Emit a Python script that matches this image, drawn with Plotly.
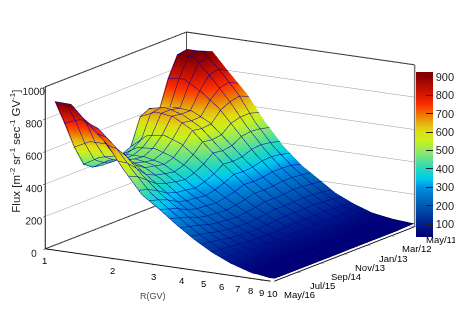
import numpy as np
import plotly.graph_objects as go

rigidity = [1.1, 1.3, 1.55, 1.85, 2.2, 2.65, 3.2, 3.8, 4.5, 5.4, 6.5, 8.0, 10.0]
months_before_may16 = [0, 4, 8, 12, 16, 20, 24, 28, 32, 36, 40, 44, 48, 52, 56, 60]
flux_rows = [
    [918, 915, 806, 706, 560, 420, 340, 260, 190, 125, 75, 35, 15],
    [760, 800, 760, 660, 530, 405, 320, 245, 180, 118, 70, 33, 14],
    [590, 640, 640, 590, 480, 380, 300, 230, 170, 112, 66, 32, 14],
    [460, 520, 545, 510, 430, 345, 270, 210, 155, 105, 62, 31, 14],
    [420, 480, 500, 470, 410, 325, 255, 198, 148, 100, 60, 30, 14],
    [410, 460, 480, 460, 395, 320, 250, 192, 144, 98, 58, 29, 14],
    [415, 470, 470, 445, 385, 310, 245, 188, 140, 96, 57, 29, 14],
    [430, 490, 500, 465, 405, 325, 255, 195, 146, 98, 58, 29, 14],
    [455, 540, 560, 520, 440, 350, 270, 205, 150, 100, 60, 30, 15],
    [620, 665, 650, 590, 490, 385, 290, 218, 158, 104, 62, 30, 15],
    [650, 670, 640, 580, 480, 380, 285, 215, 155, 102, 60, 30, 15],
    [610, 650, 640, 585, 490, 385, 290, 218, 158, 104, 62, 30, 15],
    [790, 800, 735, 650, 530, 405, 300, 225, 160, 105, 60, 30, 15],
    [915, 915, 805, 680, 540, 410, 300, 222, 155, 100, 58, 29, 15],
    [925, 925, 820, 695, 535, 400, 295, 215, 150, 95, 55, 28, 18],
    [890, 905, 785, 670, 520, 385, 280, 210, 140, 90, 50, 30, 20],
]
r_ticks = [1, 2, 3, 4, 5, 6, 7, 8, 9, 10]
date_tick_pos = [0, 10, 20, 30, 40, 50, 60]
date_tick_text = ["May/16", "Jul/15", "Sep/14", "Nov/13", "Jan/13", "Mar/12", "May/11"]
z_ticks = [0, 200, 400, 600, 800, 1000]
cbar_ticks = [100, 200, 300, 400, 500, 600, 700, 800, 900]
r_range = [1, 10]
date_range = [0, 60]
z_range = [0, 1000]

palette = [
    [0.00, "#000070"], [0.08, "#00208e"], [0.19, "#0058b0"], [0.30, "#0090e0"],
    [0.35, "#00c8f0"], [0.41, "#20d8c0"], [0.47, "#60e090"], [0.52, "#90ea60"],
    [0.58, "#c8f020"], [0.636, "#e0e010"], [0.69, "#e8b010"], [0.747, "#f07000"],
    [0.80, "#ff3000"], [0.859, "#d81800"], [0.97, "#900000"], [1.00, "#7a0000"],
]

tick_font = dict(family="Liberation Sans", size=11, color="#222222")
lbl_font = dict(family="Liberation Sans", size=9.5, color="#000000")

fig = go.Figure()
fig.add_surface(
    x=rigidity, y=months_before_may16, z=flux_rows,
    colorscale=palette, cmin=29, cmax=927,
    lighting=dict(ambient=1, diffuse=0, specular=0, roughness=1, fresnel=0),
    contours=dict(
        x=dict(show=True, start=0, end=1, size=0.0455, color="#0000a0", width=3),
        y=dict(show=True, start=0, end=60, size=4, color="#0000a0", width=2),
    ),
    colorbar=dict(
        x=0.9, xanchor="left", y=0.536, yanchor="middle", ypad=0,
        thickness=17, lenmode="pixels", len=165, outlinewidth=0,
        tickvals=cbar_ticks, ticks="inside", ticklen=7, tickcolor="#222222",
        tickfont=tick_font,
    ),
)
edge = dict(mode="lines", showlegend=False, hoverinfo="skip")
# frame edges, taken from the axis extents
fig.add_scatter3d(x=[r_range[0], r_range[0]], y=[date_range[1], date_range[1]], z=z_range,
                  line=dict(color="#555555", width=2), **edge)
fig.add_scatter3d(x=[r_range[1], r_range[1]], y=[date_range[1], date_range[1]], z=z_range,
                  line=dict(color="#777777", width=3), **edge)
fig.add_scatter3d(x=[r_range[0], r_range[0]], y=date_range, z=[z_range[0], z_range[0]],
                  line=dict(color="#111111", width=2), **edge)
fig.add_scatter3d(x=[r_range[0], r_range[0], r_range[1]],
                  y=[date_range[0], date_range[1], date_range[1]],
                  z=[z_range[1], z_range[1], z_range[1]],
                  line=dict(color="#111111", width=2), **edge)

axis_common = dict(showbackground=False, showspikes=False, showline=True,
                   linecolor="#111111", linewidth=2, zeroline=False, ticks="outside",
                   tickcolor="#111111", ticklen=4, tickangle=0)
view_dir = np.array([0.52, -0.855, 0.243])
center = np.array([-0.005, -0.003, -0.06])
eye = center + view_dir

r_labels = [dict(x=np.log10(v), y=date_range[0], z=z_range[0], text=str(v), showarrow=False,
                 xshift=-1, yshift=-12, font=lbl_font) for v in r_ticks]
date_labels = [dict(x=np.log10(r_range[1]), y=p, z=z_range[0], text=t, showarrow=False,
                    xshift=26, yshift=-13, font=lbl_font)
               for p, t in zip(date_tick_pos, date_tick_text)]

fig.update_layout(
    width=463, height=316, margin=dict(l=0, r=0, t=0, b=0),
    paper_bgcolor="white", showlegend=False,
    scene=dict(
        domain=dict(x=[0, 1], y=[0, 1]),
        aspectmode="manual", aspectratio=dict(x=1.69, y=1.72, z=1.055),
        camera=dict(
            projection=dict(type="orthographic"),
            eye=dict(x=eye[0], y=eye[1], z=eye[2]),
            center=dict(x=center[0], y=center[1], z=center[2]), up=dict(x=0, y=0, z=1),
        ),
        xaxis=dict(axis_common, type="log", range=[0, 1], tickvals=r_ticks,
                   showticklabels=False, showgrid=False, title=dict(text="")),
        yaxis=dict(axis_common, range=date_range, tickvals=date_tick_pos,
                   showticklabels=False, showgrid=False, title=dict(text="")),
        zaxis=dict(axis_common, range=z_range, tickvals=z_ticks, tickfont=tick_font,
                   showgrid=True, gridcolor="#999999", gridwidth=1, title=dict(text="")),
        annotations=r_labels + date_labels,
    ),
    annotations=[
        dict(text="Flux [m<sup>-2</sup> sr<sup>-1</sup> sec<sup>-1</sup> GV<sup>-1</sup>]",
             xref="paper", yref="paper", x=7 / 463, y=1 - 143 / 316, textangle=-90,
             xanchor="center", yanchor="middle",
             showarrow=False, font=dict(family="Liberation Sans", size=11.5, color="#222222")),
        dict(text="R(GV)", xref="paper", yref="paper", x=152 / 463, y=1 - 288 / 316,
             xanchor="center", yanchor="middle",
             showarrow=False, font=dict(family="Liberation Sans", size=9, color="#444444")),
    ],
)
fig.write_html("out.html")
